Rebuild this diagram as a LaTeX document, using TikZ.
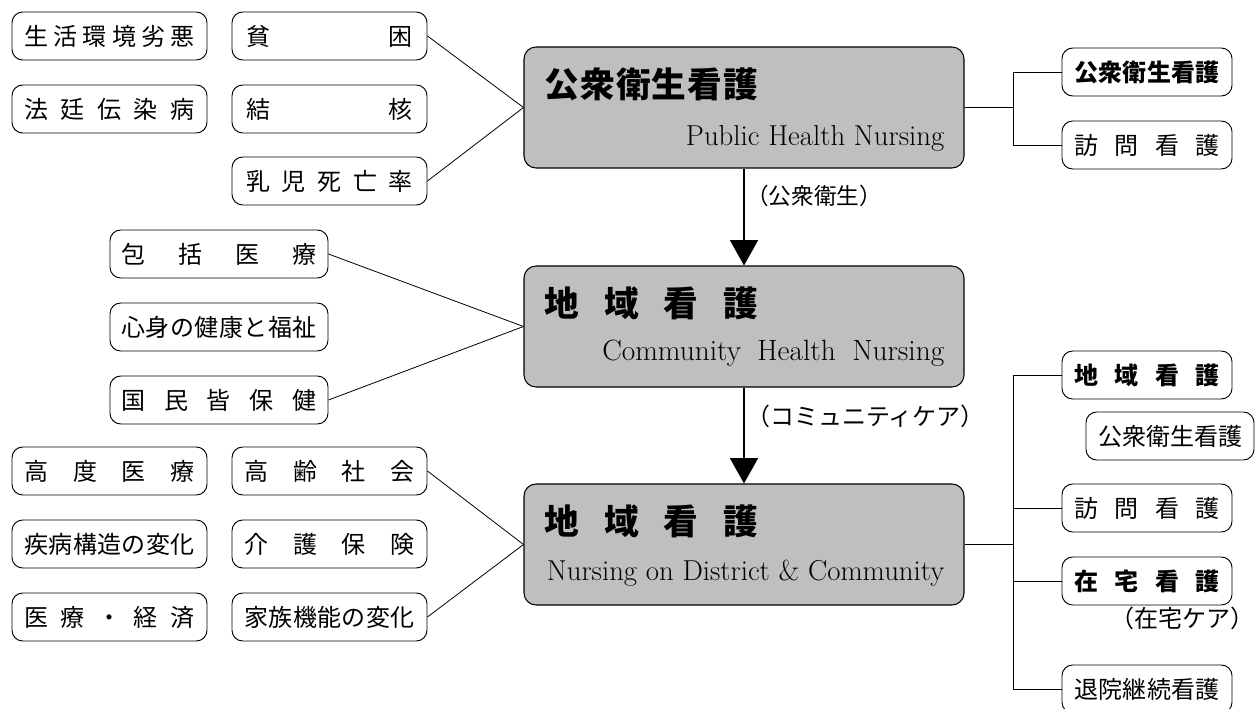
\documentclass[tikz,border=0pt]{standalone}
\usepackage{fontspec}
\newfontfamily\jp{Noto Sans CJK JP}
\usetikzlibrary{arrows.meta,calc}
\newcommand\dst[2]{\hbox to #1{#2}}
\tikzset{
 sbox/.style={draw, line width=0.7pt, rounded corners=8pt, minimum width=146.25pt, minimum height=36pt, inner sep=0pt, font=\jp\fontsize{18pt}{20pt}\selectfont},
 wbox/.style={sbox, minimum width=163.5pt},
 rbox/.style={sbox, minimum width=127.5pt},
 ibox/.style={sbox, minimum width=126pt},
 mbox/.style={draw, line width=0.8pt, fill=black!25, rounded corners=9pt, minimum width=330pt, minimum height=90.75pt, inner sep=0pt},
 title/.style={anchor=base west, inner sep=0pt, font=\jp\bfseries\fontsize{26pt}{28pt}\selectfont},
 eng/.style={anchor=base east, inner sep=0pt, font=\fontsize{21.6pt}{24pt}\selectfont},
 link/.style={line width=0.6pt},
 flow/.style={line width=1.2pt, -{Triangle[width=21pt,length=19pt]}},
 note/.style={anchor=west, inner sep=0pt, font=\jp\fontsize{17pt}{19pt}\selectfont},
}
\begin{document}
\begin{tikzpicture}[x=0.75pt,y=-0.75pt]
\useasboundingbox (0,0) rectangle (1256,709);

% main boxes
\node[mbox] (pA) at (744,107.5) {};
\node[mbox] (pB) at (744,326.5) {};
\node[mbox] (pC) at (744,544.5) {};
\node[title] (tA) at ($(pA.north west)+(21,51)$) {\dst{160pt}{公\hfill 衆\hfill 衛\hfill 生\hfill 看\hfill 護}};
\node[title] (tB) at ($(pB.north west)+(21,51)$) {\dst{160pt}{地\hfill 域\hfill 看\hfill 護}};
\node[title] (tC) at ($(pC.north west)+(21,51)$) {\dst{160pt}{地\hfill 域\hfill 看\hfill 護}};
\node[eng] (eA) at ($(pA.south east)+(-20,-23)$) {Public Health Nursing};
\node[eng, font=\fontsize{22pt}{24pt}\selectfont] (eB) at ($(pB.south east)+(-20,-27)$) {\hbox to 256.5pt{Community\hfil Health\hfil Nursing}};
\node[eng] (eC) at ($(pC.south east)+(-20,-25)$) {Nursing on District \& Community};

% top-left
\node[sbox] (a1) at (109.5,36) {\dst{127.5pt}{生\hfill 活\hfill 環\hfill 境\hfill 劣\hfill 悪}};
\node[sbox] (a2) at (109.5,109) {\dst{127.5pt}{法\hfill 廷\hfill 伝\hfill 染\hfill 病}};
\node[sbox] (b1) at (329.5,36) {\dst{125pt}{貧\hfill 困}};
\node[sbox] (b2) at (329.5,109) {\dst{125pt}{結\hfill 核}};
\node[sbox] (b3) at (329.5,181) {\dst{125pt}{乳\hfill 児\hfill 死\hfill 亡\hfill 率}};

% middle-left
\node[wbox] (c1) at (219,254) {\dst{146.25pt}{包\hfill 括\hfill 医\hfill 療}};
\node[wbox] (c2) at (219,327) {\dst{146.25pt}{心\hfill 身\hfill の\hfill 健\hfill 康\hfill と\hfill 福\hfill 祉}};
\node[wbox] (c3) at (219,400) {\dst{146.25pt}{国\hfill 民\hfill 皆\hfill 保\hfill 健}};

% bottom-left
\node[sbox] (d1) at (109.5,471) {\dst{127.5pt}{高\hfill 度\hfill 医\hfill 療}};
\node[sbox] (d2) at (109.5,544) {\dst{127.5pt}{疾\hfill 病\hfill 構\hfill 造\hfill の\hfill 変\hfill 化}};
\node[sbox] (d3) at (109.5,617) {\dst{127.5pt}{医\hfill 療\hfill ・\hfill 経\hfill 済}};
\node[sbox] (e1) at (329.5,471) {\dst{127.5pt}{高\hfill 齢\hfill 社\hfill 会}};
\node[sbox] (e2) at (329.5,544) {\dst{127.5pt}{介\hfill 護\hfill 保\hfill 険}};
\node[sbox] (e3) at (329.5,617) {\dst{127.5pt}{家\hfill 族\hfill 機\hfill 能\hfill の\hfill 変\hfill 化}};

% right top
\node[rbox] (f1) at (1147,72) {\bfseries\dst{108.75pt}{公\hfill 衆\hfill 衛\hfill 生\hfill 看\hfill 護}};
\node[rbox] (f2) at (1147,145) {\dst{108.75pt}{訪\hfill 問\hfill 看\hfill 護}};

% right bottom
\node[rbox] (g1) at (1147,375) {\bfseries\dst{108.75pt}{地\hfill 域\hfill 看\hfill 護}};
\node[ibox] (g2) at (1170,436) {\dst{107.25pt}{公\hfill 衆\hfill 衛\hfill 生\hfill 看\hfill 護}};
\node[rbox] (g3) at (1147,508) {\dst{108.75pt}{訪\hfill 問\hfill 看\hfill 護}};
\node[rbox] (g4) at (1147,581) {\bfseries\dst{108.75pt}{在\hfill 宅\hfill 看\hfill 護}};
\node[note, anchor=east, font=\jp\fontsize{18pt}{20pt}\selectfont] (g5) at (1255,618) {（在宅ケア）};
\node[rbox] (g6) at (1147,689) {\dst{108.75pt}{退\hfill 院\hfill 継\hfill 続\hfill 看\hfill 護}};

% flow labels
\node[note] (l1) at (746,196) {（公衆衛生）};
\node[note, font=\jp\fontsize{18pt}{20pt}\selectfont] (l2) at (746,416) {（コミュニティケア）};

% connectors
\draw[link] (b1.east) -- (pA.west);
\draw[link] (b3.east) -- (pA.west);
\draw[link] (c1.east) -- (pB.west);
\draw[link] (c3.east) -- (pB.west);
\draw[link] (e1.east) -- (pC.west);
\draw[link] (e3.east) -- (pC.west);

\coordinate (j1) at (1013,107.5);
\coordinate (j2) at (1013,544.5);
\draw[link] (pA.east) -- (j1);
\draw[link] (f1.west) -| (j1) |- (f2.west);
\draw[link] (pC.east) -- (j2);
\draw[link] (g1.west) -| (j2) |- (g6.west);
\draw[link] (g3.west) -- (g3.west -| j2);
\draw[link] (g4.west) -- (g4.west -| j2);

\draw[flow] (pA.south) -- (pB.north);
\draw[flow] (pB.south) -- (pC.north);
\end{tikzpicture}
\end{document}
